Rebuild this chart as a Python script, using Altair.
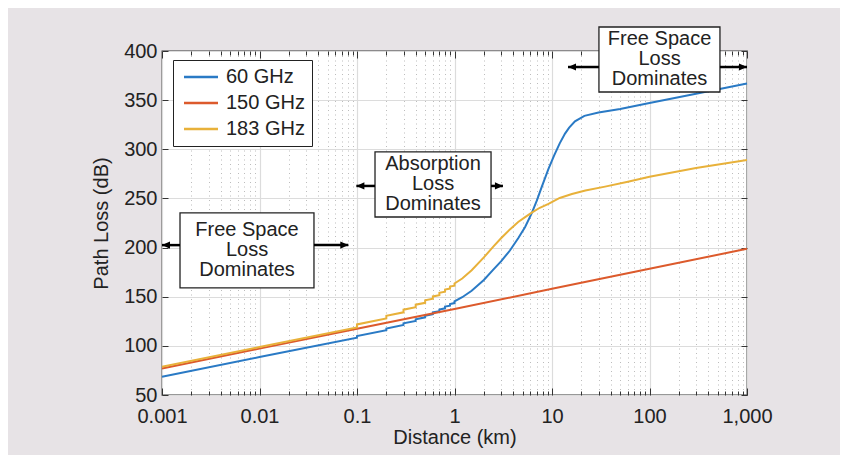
import altair as alt
import pandas as pd

# ---------------- data ----------------
series_names = ["60 GHz", "150 GHz", "183 GHz"]
series_colors = ["#2a7ac5", "#dc5a2c", "#e8b13a"]

dist_60 = [0.001, 0.01, 0.0999, 0.1, 0.1999, 0.2, 0.2999, 0.3, 0.3999, 0.4,
           0.4999, 0.5, 0.5999, 0.6, 0.6999, 0.7, 0.7999, 0.8, 0.8999, 0.9,
           0.9999, 1.0, 1.2, 1.5, 2.0, 2.5, 3.0, 3.7, 4.5, 5.3, 6.2, 7.0, 7.8,
           9.2, 10.5, 12, 13.6, 15, 17.2, 21.5, 30, 50, 100, 300, 1000]
loss_60 = [68.6, 88.6, 108.3, 110.0, 116.0, 117.7, 121.2, 122.9, 125.4, 127.1,
           129.0, 130.7, 132.3, 134.0, 135.3, 137.0, 138.2, 139.9, 140.9, 142.6,
           143.5, 145.2, 149.5, 156, 167, 177.5, 186, 197, 209.5, 221, 235, 248, 261,
           280, 293.5, 306, 316, 322, 328.5, 334, 337.5, 341, 347, 356.5, 367]

dist_150 = [0.001, 0.01, 0.1, 1, 10, 100, 1000]
loss_150 = [77.0, 97.2, 117.3, 137.6, 158.0, 178.4, 198.8]

dist_183 = [0.001, 0.01, 0.0999, 0.1, 0.1999, 0.2, 0.2999, 0.3, 0.3999, 0.4,
            0.4999, 0.5, 0.5999, 0.6, 0.6999, 0.7, 0.7999, 0.8, 0.8999, 0.9,
            0.9999, 1.0, 1.2, 1.5, 2.0, 2.5, 3.0, 3.7, 4.5, 5.3, 6.2, 7.5, 9.2,
            12, 16, 22, 35, 60, 100, 300, 1000]
loss_183 = [78.8, 98.8, 118.8, 121.8, 127.8, 130.6, 134.1, 136.8, 139.3, 141.9,
            143.8, 146.3, 147.9, 150.3, 151.6, 153.9, 155.1, 157.3, 158.3, 160.4,
            161.3, 163.5, 168.5, 177, 190, 201, 209.5, 218.5, 226, 231, 235.5, 240.5, 244.5,
            250.5, 254.5, 258, 262, 267, 272, 281, 289]

# annotation boxes (data coordinates)
box_labels = ["Free Space\nLoss\nDominates", "Absorption\nLoss\nDominates", "Free Space\nLoss\nDominates"]
box_x_lo = [0.00153, 0.153, 30.3]
box_x_hi = [0.0362, 2.37, 528]
box_y_lo = [158.9, 231.1, 358.3]
box_y_hi = [235.2, 297.3, 424.4]
label_x = [0.00745, 0.602, 126.8]
label_y = [197.6, 264.2, 391.4]
arrow_y = [202.5, 262.7, 383.7]
arrow_left_tip = [0.001, 0.0985, 14.6]
arrow_right_tip = [0.0815, 3.14, 1000]

x_major = [0.001, 0.01, 0.1, 1, 10, 100, 1000]
x_minor = [m * 10.0 ** k for k in range(-3, 3) for m in range(2, 10)]
y_major = [50, 100, 150, 200, 250, 300, 350, 400]

# ---------------- tables ----------------
rows = []
for name, ds, ls in zip(series_names, [dist_60, dist_150, dist_183], [loss_60, loss_150, loss_183]):
    for i, (d, l) in enumerate(zip(ds, ls)):
        rows.append({"series": name, "dist": d, "loss": l, "order": i})
lines_df = pd.DataFrame(rows)

boxes_df = pd.DataFrame({
    "label": box_labels, "x1": box_x_lo, "x2": box_x_hi, "y1": box_y_lo, "y2": box_y_hi,
    "lx": label_x, "ly": label_y,
})
arrows_df = pd.DataFrame({
    "from": box_x_lo + box_x_hi,
    "to": arrow_left_tip + arrow_right_tip,
    "y": arrow_y + arrow_y,
    "dir": ["left"] * 3 + ["right"] * 3,
})

FONT = "Liberation Sans"
TXT = "#222222"
W, H = 585, 344

xs = alt.Scale(type="log", domain=[0.001, 1000], nice=False)
ys = alt.Scale(domain=[50, 400], nice=False, zero=False)


def tick_axis(orient, offset, values, size):
    return alt.Axis(orient=orient, offset=offset, values=values, labels=False, ticks=True,
                    tickSize=size, tickColor="#333333", tickWidth=1, domain=False,
                    grid=False, title=None)


lines = alt.Chart(lines_df).mark_line(strokeWidth=2).encode(
    x=alt.X("dist:Q", scale=xs, axis=alt.Axis(
        orient="bottom", values=x_major, format=",~g", labelFontSize=20, labelFont=FONT,
        labelColor=TXT, labelPadding=11, labelFlush=False, labelOverlap=False,
        ticks=False, tickSize=0, domain=False, grid=True, gridColor="#dcdcdc", gridWidth=1.2,
        title="Distance (km)", titleFontSize=20, titleFont=FONT, titleFontWeight="normal",
        titleColor=TXT, titlePadding=1)),
    y=alt.Y("loss:Q", scale=ys, axis=alt.Axis(
        orient="left", values=y_major, labelFontSize=20, labelFont=FONT, labelColor=TXT,
        labelPadding=5, ticks=False, tickSize=0, domain=False, grid=True,
        gridColor="#dcdcdc", gridWidth=1.2, title="Path Loss (dB)", titleFontSize=20,
        titleFont=FONT, titleFontWeight="normal", titleColor=TXT, titlePadding=12)),
    color=alt.Color("series:N", sort=series_names,
                    scale=alt.Scale(domain=series_names, range=series_colors),
                    legend=alt.Legend(orient="none", legendX=11, legendY=9, title=None,
                                      symbolType="M-2,0H2", symbolSize=289,
                                      symbolStrokeWidth=2.4, labelFontSize=20,
                                      labelFont=FONT, labelColor=TXT, fillColor="white",
                                      strokeColor="#222222", padding=7, rowPadding=6,
                                      symbolOffset=11, labelOffset=15)),
    order="order:Q",
)

boxes = alt.Chart(boxes_df).mark_rect(fill="white", stroke="#222222", strokeWidth=1.3).encode(
    x=alt.X("x1:Q", scale=xs, axis=alt.Axis(
        orient="bottom", values=x_minor, labels=False, ticks=False, domain=False,
        grid=True, gridDash=[1, 3.5], gridColor="#bcbcbc", gridWidth=1, title=None)),
    x2="x2:Q",
    y=alt.Y("y1:Q", scale=ys, axis=tick_axis("right", -W, y_major, 6)),
    y2="y2:Q",
)

texts = alt.Chart(boxes_df).mark_text(
    font=FONT, fontSize=20, lineHeight=20, lineBreak="\n", align="center",
    baseline="middle", dy=-20, color=TXT).encode(
    x=alt.X("lx:Q", scale=xs, axis=tick_axis("top", -H, x_major, 7)),
    y=alt.Y("ly:Q", scale=ys, axis=tick_axis("left", -W, y_major, 6)),
    text="label:N",
)

rules = alt.Chart(arrows_df).mark_rule(color="black", strokeWidth=2.5).encode(
    x=alt.X("from:Q", scale=xs, axis=tick_axis("top", -H, x_minor, 4)),
    x2="to:Q",
    y=alt.Y("y:Q", scale=ys, axis=None),
)

heads_left = alt.Chart(arrows_df).transform_filter(alt.datum.dir == "left").mark_point(
    shape="M0,0L2,-0.9L2,0.9Z", filled=True, size=64, color="black", opacity=1).encode(
    x=alt.X("to:Q", scale=xs, axis=tick_axis("bottom", -H, x_major, 7)),
    y=alt.Y("y:Q", scale=ys, axis=None),
)

heads_right = alt.Chart(arrows_df).transform_filter(alt.datum.dir == "right").mark_point(
    shape="M0,0L-2,-0.9L-2,0.9Z", filled=True, size=64, color="black", opacity=1).encode(
    x=alt.X("to:Q", scale=xs, axis=tick_axis("bottom", -H, x_minor, 4)),
    y=alt.Y("y:Q", scale=ys, axis=None),
)

chart = alt.layer(lines, boxes, texts, rules, heads_left, heads_right).resolve_axis(
    x="independent", y="independent"
).properties(
    width=W, height=H, background="#e7e3e6",
    padding={"left": 154, "top": 43, "right": 93, "bottom": 60},
    autosize=alt.AutoSizeParams(type="none"),
).configure_view(fill="white", stroke="#333333", strokeWidth=1.3)

chart.save("out.html", embed_options={"renderer": "svg", "actions": False})
